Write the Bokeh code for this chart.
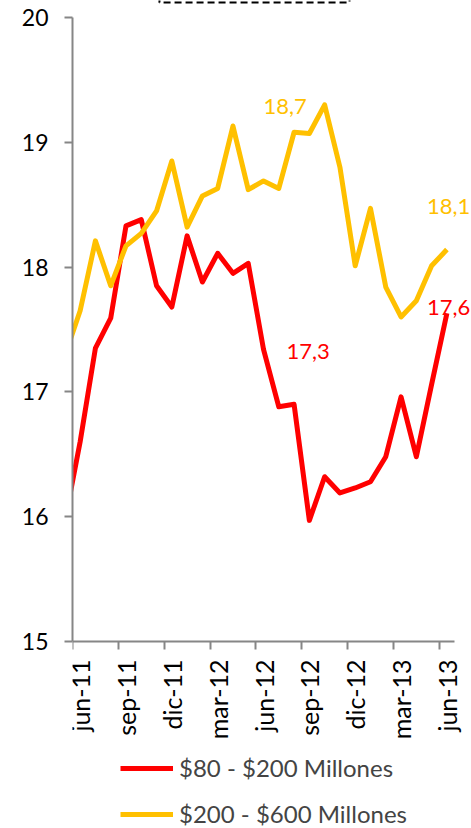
from bokeh.plotting import figure
from bokeh.models import Range1d, FixedTicker, Label, Legend, LegendItem, BoxAnnotation
from bokeh.embed import file_html
from bokeh.resources import INLINE

months = ["may-11", "jun-11", "jul-11", "ago-11", "sep-11", "oct-11", "nov-11", "dic-11",
          "ene-12", "feb-12", "mar-12", "abr-12", "may-12", "jun-12", "jul-12", "ago-12",
          "sep-12", "oct-12", "nov-12", "dic-12", "ene-13", "feb-13", "mar-13", "abr-13",
          "may-13", "jun-13"]
red_vals = [15.96, 16.60, 17.35, 17.59, 18.33, 18.38, 17.85, 17.68, 18.25, 17.88, 18.11,
            17.95, 18.03, 17.34, 16.88, 16.90, 15.97, 16.32, 16.19, 16.23, 16.28, 16.48,
            16.96, 16.48, 17.06, 17.63]
yellow_vals = [17.29, 17.65, 18.21, 17.85, 18.17, 18.27, 18.45, 18.85, 18.32, 18.57, 18.63,
               19.13, 18.62, 18.69, 18.63, 19.08, 19.07, 19.30, 18.80, 18.01, 18.47, 17.84,
               17.60, 17.73, 18.01, 18.14]
series_names = ["$80 - $200 Millones", "$200 - $600 Millones"]
y_ticks = [15, 16, 17, 18, 19, 20]

RED = "#FF0000"
YEL = "#FFC000"
GRAY = "#868686"
FONT = "Lato"

# month position: jun-11 tick at 0, each point centred in its month
xs = [i - 0.5 for i in range(len(months))]

p = figure(frame_width=399, frame_height=828, x_range=Range1d(0, 26.11), y_range=Range1d(13.501, 20.136),
           output_backend="svg", toolbar_location=None,
           min_border_left=72, min_border_right=0, min_border_top=0, min_border_bottom=0)
p.outline_line_color = None
p.xgrid.visible = False
p.ygrid.visible = False

r_red = p.line(xs, red_vals, line_color=RED, line_width=5, line_join="round")
r_yel = p.line(xs, yellow_vals, line_color=YEL, line_width=5, line_join="round")

# x axis (placed at y=15 inside the frame so the legend can sit below it)
tick_idx = list(range(1, len(months), 3))
p.xaxis.fixed_location = y_ticks[0]
p.xaxis.bounds = (0, 25)
p.xaxis.ticker = FixedTicker(ticks=[xs[i] for i in tick_idx],
                             minor_ticks=[xs[i] - 0.5 for i in tick_idx])
p.xaxis.major_label_overrides = {xs[i]: months[i] for i in tick_idx}
p.xaxis.major_label_orientation = 1.5707963
p.xaxis.major_tick_line_color = None
p.xaxis.minor_tick_line_color = GRAY
p.xaxis.minor_tick_line_width = 2
p.xaxis.minor_tick_out = 8
p.xaxis.minor_tick_in = 0
p.xaxis.major_label_standoff = 10
p.xaxis.axis_line_color = GRAY
p.xaxis.axis_line_width = 2
p.xaxis.major_label_text_font = FONT
p.xaxis.major_label_text_font_size = "25px"
p.xaxis.major_label_text_color = "black"

# y axis
p.yaxis.ticker = FixedTicker(ticks=y_ticks)
p.yaxis.bounds = (y_ticks[0], y_ticks[-1])
p.yaxis.axis_line_color = GRAY
p.yaxis.axis_line_width = 2
p.yaxis.major_tick_line_color = GRAY
p.yaxis.major_tick_line_width = 2
p.yaxis.major_tick_out = 8
p.yaxis.major_tick_in = 0
p.yaxis.minor_tick_line_color = None
p.yaxis.major_label_standoff = 16
p.yaxis.major_label_text_font = FONT
p.yaxis.major_label_text_font_size = "23px"
p.yaxis.major_label_text_color = "black"

def fmt(v):
    return f"{v:.1f}".replace(".", ",")

j12 = months.index("jun-12")
j13 = months.index("jun-13")
labels = [
    (xs[j12], yellow_vals[j12], YEL, 0, 74),
    (xs[j12], red_vals[j12], RED, 23, -2),
    (xs[j13], yellow_vals[j13], YEL, -20, 43),
    (xs[j13], red_vals[j13], RED, -20, 6),
]
for x, y, c, dx, dy in labels:
    p.add_layout(Label(x=x, y=y, text=fmt(y), text_color=c, x_offset=dx, y_offset=dy,
                       text_align="left", text_baseline="middle",
                       text_font=FONT, text_font_size="22px"))

# dashed title box edge (mostly outside the picture)
p.add_layout(BoxAnnotation(left=5.69, right=18.13, bottom=20.12, top=20.6,
                           fill_alpha=0, line_color="black", line_alpha=1.0, line_width=2,
                           line_dash="7 4"))

legend = Legend(items=[LegendItem(label=series_names[0], renderers=[r_red]),
                       LegendItem(label=series_names[1], renderers=[r_yel])],
                location=(48, 0), orientation="vertical",
                glyph_width=53, glyph_height=26, label_standoff=6, spacing=17,
                label_text_font=FONT, label_text_font_size="24px",
                border_line_color=None, background_fill_alpha=0, padding=2, margin=0)
p.add_layout(legend, "center")

open("out.html", "w").write(file_html(p, INLINE))
